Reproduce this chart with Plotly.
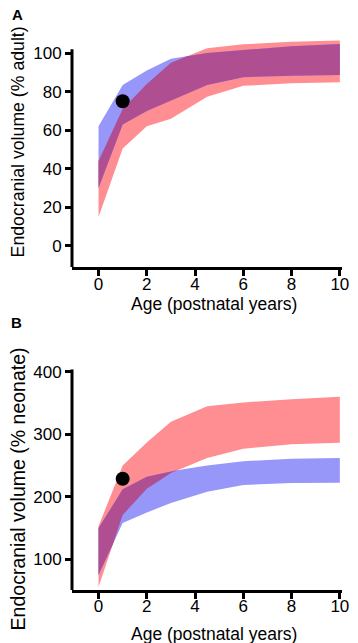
import plotly.graph_objects as go

# ---------------- data ----------------
ages = [0, 1, 2, 3, 4.5, 6, 8, 10]

# Panel A: endocranial volume (% adult)
a_blue_upper = [62, 83.4, 91, 97, 100, 101.5, 103.5, 104.7]
a_blue_lower = [30, 63, 70, 75.5, 83.4, 87.5, 88.2, 88.6]
a_red_upper = [44, 71, 84, 95, 102.5, 104.5, 105.8, 106.5]
a_red_lower = [15, 50.5, 62, 66, 77.4, 83, 84.3, 84.8]
a_point_x = [1.0]
a_point_y = [75]

# Panel B: endocranial volume (% neonate)
b_blue_upper = [150, 212, 232, 241, 250, 257, 261, 262]
b_blue_lower = [75, 158, 175, 190, 208, 219, 222, 222.5]
b_red_upper = [153, 250, 287, 320, 345, 351, 356, 360]
b_red_lower = [56, 171, 213, 238, 262, 277, 284, 286.5]
b_point_x = [1.0]
b_point_y = [229]

x_ticks = [0, 2, 4, 6, 8, 10]
a_y_ticks = [0, 20, 40, 60, 80, 100]
b_y_ticks = [100, 200, 300, 400]

BLUE = "#9797fa"
RED = "#ff8e92"
PURPLE = "#b04e92"
FONT = "Liberation Sans, Arial, sans-serif"


def insert_cross(xs, arrs, i, j):
    nx = [xs[0]]
    na = [[a[0]] for a in arrs]
    for k in range(1, len(xs)):
        d0 = arrs[i][k - 1] - arrs[j][k - 1]
        d1 = arrs[i][k] - arrs[j][k]
        if d0 * d1 < 0:
            t = d0 / (d0 - d1)
            nx.append(xs[k - 1] + t * (xs[k] - xs[k - 1]))
            for m, a in enumerate(arrs):
                na[m].append(a[k - 1] + t * (a[k] - a[k - 1]))
        nx.append(xs[k])
        for m, a in enumerate(arrs):
            na[m].append(a[k])
    return nx, na


def overlap(xs, lo1, hi1, lo2, hi2):
    arrs = [list(lo1), list(hi1), list(lo2), list(hi2)]
    xs, arrs = insert_cross(list(xs), arrs, 1, 3)
    xs, arrs = insert_cross(xs, arrs, 0, 2)
    U = [min(a, b) for a, b in zip(arrs[1], arrs[3])]
    L = [max(a, b) for a, b in zip(arrs[0], arrs[2])]
    xs, (L, U) = insert_cross(xs, [L, U], 0, 1)
    L = [min(l, u) for l, u in zip(L, U)]
    return xs, L, U


def band(xs, lo, hi, color, xa, ya):
    return go.Scatter(
        x=list(xs) + list(xs)[::-1],
        y=list(hi) + list(lo)[::-1],
        fill="toself", fillcolor=color, mode="lines",
        line=dict(width=0, color=color),
        xaxis=xa, yaxis=ya, showlegend=False, hoverinfo="skip",
    )


fig = go.Figure()

# Panel A
fig.add_trace(band(ages, a_red_lower, a_red_upper, RED, "x", "y"))
fig.add_trace(band(ages, a_blue_lower, a_blue_upper, BLUE, "x", "y"))
ox, ol, ou = overlap(ages, a_blue_lower, a_blue_upper, a_red_lower, a_red_upper)
fig.add_trace(band(ox, ol, ou, PURPLE, "x", "y"))
fig.add_trace(go.Scatter(x=a_point_x, y=a_point_y, mode="markers",
                         marker=dict(size=14, color="black"),
                         xaxis="x", yaxis="y", showlegend=False))

# Panel B
fig.add_trace(band(ages, b_red_lower, b_red_upper, RED, "x2", "y2"))
fig.add_trace(band(ages, b_blue_lower, b_blue_upper, BLUE, "x2", "y2"))
ox, ol, ou = overlap(ages, b_blue_lower, b_blue_upper, b_red_lower, b_red_upper)
fig.add_trace(band(ox, ol, ou, PURPLE, "x2", "y2"))
fig.add_trace(go.Scatter(x=b_point_x, y=b_point_y, mode="markers",
                         marker=dict(size=14, color="black"),
                         xaxis="x2", yaxis="y2", showlegend=False))

tickfont = dict(family=FONT, size=17, color="black")
xax = dict(range=[-1.1, 10.09], tickvals=x_ticks, ticks="outside", ticklen=6,
           tickwidth=2.5, tickcolor="black", showline=True, linewidth=3,
           linecolor="black", showgrid=False, zeroline=False, tickfont=tickfont,
           ticklabelstandoff=-7)
yax = dict(ticks="outside", ticklen=6, tickwidth=2.5, tickcolor="black",
           showline=False, showgrid=False, zeroline=False, tickfont=tickfont)

fig.update_layout(
    width=358, height=643,
    margin=dict(l=72, r=9, t=37, b=53),
    paper_bgcolor="white", plot_bgcolor="white",
    xaxis=dict(**xax, domain=[0, 1], anchor="y"),
    yaxis=dict(**yax, domain=[0.5837, 1], range=[-11, 108.3], tickvals=a_y_ticks, anchor="x"),
    xaxis2=dict(**xax, domain=[0, 1], anchor="y2"),
    yaxis2=dict(**yax, domain=[0, 0.3991], range=[51, 404], tickvals=b_y_ticks, anchor="x2"),
    shapes=[
        dict(type="line", xref="x domain", yref="y", x0=0, x1=0, y0=-11, y1=102,
             line=dict(color="black", width=3)),
        dict(type="line", xref="x2 domain", yref="y2", x0=0, x1=0, y0=51, y1=404,
             line=dict(color="black", width=3)),
    ],
)

fig.add_annotation(text="Age (postnatal years)", xref="paper", yref="paper",
                   x=0.527, y=0.518, xanchor="center", yanchor="middle",
                   showarrow=False, font=dict(family=FONT, size=17.5, color="black"))
fig.add_annotation(text="Age (postnatal years)", xref="paper", yref="paper",
                   x=0.527, y=-0.0796, xanchor="center", yanchor="middle",
                   showarrow=False, font=dict(family=FONT, size=17.5, color="black"))
fig.add_annotation(text="Endocranial volume (% adult)", xref="paper", yref="paper",
                   x=-0.1986, y=0.8101, xanchor="center", yanchor="middle",
                   textangle=-90, showarrow=False, font=dict(family=FONT, size=17.7, color="black"))
fig.add_annotation(text="Endocranial volume (% neonate)", xref="paper", yref="paper",
                   x=-0.1986, y=0.1826, xanchor="center", yanchor="middle",
                   textangle=-90, showarrow=False, font=dict(family=FONT, size=19.5, color="black"))
fig.add_annotation(text="<b>A</b>", xref="paper", yref="paper", x=-0.2022, y=1.0398,
                   xanchor="center", yanchor="middle", showarrow=False,
                   font=dict(family=FONT, size=15, color="black"))
fig.add_annotation(text="<b>B</b>", xref="paper", yref="paper", x=-0.2058, y=0.4846,
                   xanchor="center", yanchor="middle", showarrow=False,
                   font=dict(family=FONT, size=15, color="black"))

fig.write_html("out.html")
